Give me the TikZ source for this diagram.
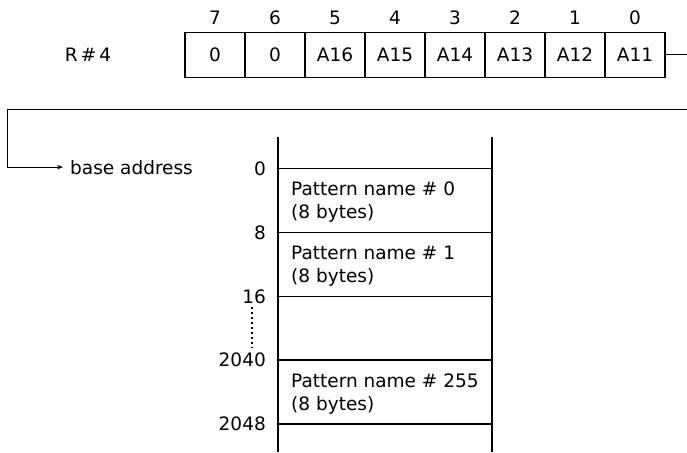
\documentclass[tikz,border=0pt]{standalone}
\usepackage{fontspec}
\setmainfont{DejaVu Sans}
\usetikzlibrary{arrows.meta}
\begin{document}
\begin{tikzpicture}[x=1pt,y=-1pt,
  every node/.style={inner sep=0pt, font=\fontsize{18.5}{22}\selectfont},
  regcell/.style={draw, line width=1.3pt, minimum width=60pt, minimum height=45pt},
  bitnum/.style={anchor=base},
  addr/.style={anchor=base east},
  celltext/.style={anchor=base west},
  memline/.style={line width=1.3pt},
  thinline/.style={line width=1pt}]
\useasboundingbox (0,0) rectangle (687,452);
% register label
\node[anchor=base] (reg) at (88,62) {R\,\#\,4};
% bit numbers and cells
\foreach \b/\t [count=\i from 0] in {7/0,6/0,5/A16,4/A15,3/A14,2/A13,1/A12,0/A11} {
  \node[bitnum] (n\b) at (215+60*\i,25) {\b};
  \node[regcell] (c\b) at (215+60*\i,55) {\t};
}
% connector from register to base address
\coordinate (regout) at (687,55);
\coordinate (wrapin) at (687,109);
\coordinate (corner) at (7,109);
\draw[thinline] (c0.east) -- (regout);
\node[anchor=base west] (base) at (70,174) {base address};
\draw[thinline, -{Stealth[length=6pt,width=4.5pt]}] (wrapin) -- (corner) |- ([xshift=-7pt]base.west);
% memory map
\coordinate (lt) at (278,137);
\coordinate (lb) at (278,452);
\coordinate (rt) at (492,137);
\coordinate (rb) at (492,452);
\draw[memline] (lt) -- (lb);
\draw[memline] (rt) -- (rb);
\foreach \y/\lab/\nm in {168.5/0/a0, 232.5/8/a8, 296.5/16/a16, 360/2040/a2040, 424/2048/a2048} {
  \coordinate (h\nm l) at (278,\y);
  \coordinate (h\nm r) at (492,\y);
  \draw[memline] (h\nm l) -- (h\nm r);
  \node[addr] (\nm) at (266,\y+6.5) {\lab};
}
\coordinate (dtop) at (252,307);
\coordinate (dbot) at (252,348);
\draw[line width=1.5pt, dash pattern=on 1.5pt off 3.5pt] (dtop) -- (dbot);
% cell texts
\node[celltext] (p0) at (291,195.5) {Pattern name \# 0};
\node[celltext] (b0) at (291,218.5) {(8 bytes)};
\node[celltext] (p1) at (291,259.5) {Pattern name \# 1};
\node[celltext] (b1) at (291,282.5) {(8 bytes)};
\node[celltext] (p255) at (291,387) {Pattern name \# 255};
\node[celltext] (b255) at (291,410) {(8 bytes)};
\end{tikzpicture}
\end{document}
